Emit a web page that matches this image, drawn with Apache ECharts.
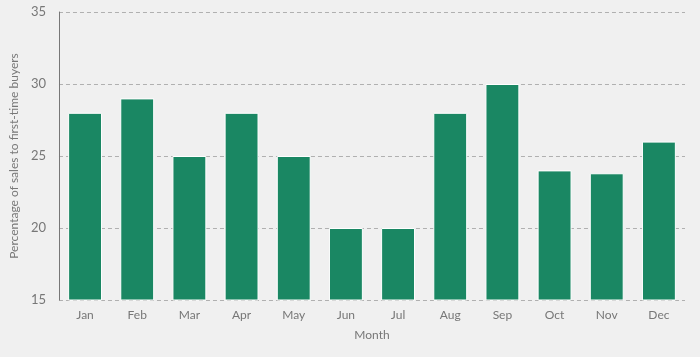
<!DOCTYPE html>
<html><head><meta charset="utf-8">
<script src="https://cdn.jsdelivr.net/npm/echarts@6/dist/echarts.min.js"></script>
<style>html,body{margin:0;padding:0;background:#f0f0f0;}#c{width:700px;height:357px;}</style>
</head><body><div id="c"></div>
<script>
const categories = ["Jan","Feb","Mar","Apr","May","Jun","Jul","Aug","Sep","Oct","Nov","Dec"];
const values = [28, 29, 25, 28, 25, 20, 20, 28, 30, 24, 23.8, 26];
const yTitle = "Percentage of sales to first-time buyers";
const xTitle = "Month";
const chart = echarts.init(document.getElementById('c'));
const txt = '#777777';
const font = 'Lato, "Open Sans", sans-serif';
chart.setOption({
  backgroundColor: '#f0f0f0',
  animation: false,
  grid: {left: 55, right: 15, top: 12, bottom: 57},
  xAxis: {
    type: 'category', data: categories,
    name: xTitle, nameLocation: 'middle', nameGap: 29,
    nameTextStyle: {color: txt, fontSize: 12, fontFamily: font},
    axisLine: {show: false}, axisTick: {show: false},
    axisLabel: {color: txt, fontSize: 12, fontFamily: font, margin: 9}
  },
  yAxis: {
    type: 'value', min: 15, max: 35, interval: 5,
    name: yTitle, nameLocation: 'middle', nameGap: 31,
    nameTextStyle: {color: txt, fontSize: 12, fontFamily: font},
    axisLine: {show: true, lineStyle: {color: '#777777', width: 1}},
    axisTick: {show: false},
    axisLabel: {color: txt, fontSize: 13, fontFamily: font, margin: 13},
    splitLine: {show: true, lineStyle: {color: '#b0b0b0', type: [4, 3], width: 1}}
  },
  series: [{
    type: 'bar', data: values, barWidth: '65%',
    itemStyle: {color: '#1a8763', borderColor: '#ffffff', borderWidth: 1}
  }]
});
</script></body></html>
